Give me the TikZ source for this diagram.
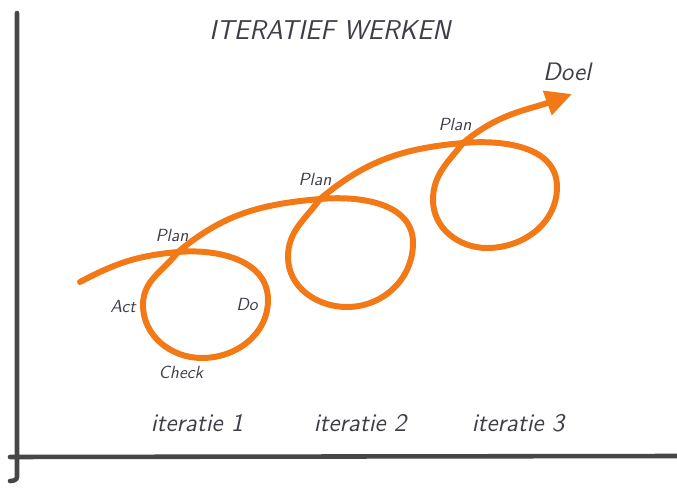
\documentclass[tikz,border=0pt]{standalone}
\usepackage{tikz}
\usetikzlibrary{arrows.meta, positioning}
\definecolor{loopcolor}{RGB}{242,121,22}
\definecolor{inkgray}{RGB}{62,62,72}
\definecolor{axisgray}{RGB}{70,70,70}
\tikzset{
    axis/.style={
        draw=axisgray,
        line width=2.6pt,
        line cap=round,
        line join=round
    },
    spiral/.style={
        draw=loopcolor,
        line width=3.4pt,
        line cap=round,
        -{Triangle[length=15pt,width=14pt]}
    },
    label/.style={
        text=inkgray,
        font=\normalsize\sffamily\itshape
    },
    iterlabel/.style={
        label,
        font=\Large\sffamily\itshape
    },
    titlelabel/.style={
        label,
        font=\fontsize{15.5}{18}\selectfont\sffamily\itshape
    }
}
\begin{document}
\begin{tikzpicture}[x=0.02cm, y=0.02cm]
\useasboundingbox (0,0) rectangle (677,491);

% Axes
\coordinate (ytop) at (17,478);
\coordinate (ybot) at (17,14);
\coordinate (xleft) at (10,34);
\coordinate (xright) at (677,35);
\draw[axis] (ytop) -- (ybot) to[out=270,in=0] (10,10);
\draw[axis] (xleft) -- (xright);

% Title
\node[titlelabel] (title) at (330,461) {ITERATIEF WERKEN};

% Crossing points of the spiral
\coordinate (p1) at (178,239);
\coordinate (p2) at (320,292);
\coordinate (p3) at (463,348);
\coordinate (goal) at (572,397);

% Spiral with three loops
\draw[spiral] (80,209) to[out=28,in=185] (p1)
    to[out=5,in=90] (268,191) to[out=270,in=0] (202,133)
    to[out=180,in=270] (143,186) to[out=90,in=232] (p1)
    to[out=40,in=185] (p2)
    to[out=5,in=90] (413,248) to[out=270,in=0] (347,184)
    to[out=180,in=270] (288,234) to[out=90,in=234] (p2)
    to[out=40,in=185] (p3)
    to[out=5,in=90] (557,304) to[out=270,in=0] (487,243)
    to[out=180,in=270] (433,291) to[out=90,in=232] (p3)
    to[out=40,in=200] (goal);

% Labels
\node[iterlabel] (doel) at (567,419) {Doel};
\node[label] (plan3) at (455,366) {Plan};
\node[label] (plan2) at (315,311) {Plan};
\node[label] (plan1) at (172,255) {Plan};
\node[label] (act) at (123,184) {Act};
\node[label] (do) at (247,186) {Do};
\node[label] (check) at (181,119) {Check};

% Iterations
\node[iterlabel] (it1) at (197,68) {iteratie 1};
\node[iterlabel] (it2) at (360,68) {iteratie 2};
\node[iterlabel] (it3) at (518,68) {iteratie 3};

\end{tikzpicture}
\end{document}
